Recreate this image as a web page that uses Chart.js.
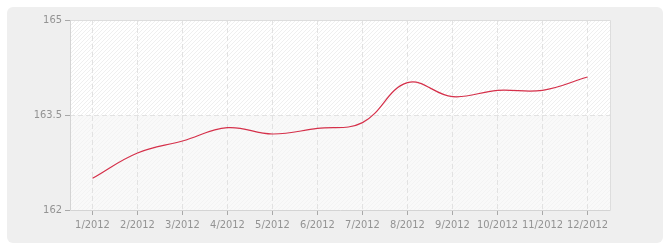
<!DOCTYPE html>
<html>
<head>
<meta charset="utf-8">
<script src="https://cdn.jsdelivr.net/npm/chart.js@4/dist/chart.umd.min.js"></script>
<style>
html,body{margin:0;padding:0;background:#fff;}
#wrap{width:670px;height:250px;position:relative;}
</style>
</head>
<body>
<div id="wrap"><canvas id="c" width="670" height="250"></canvas></div>
<script>
const categories = ['1/2012','2/2012','3/2012','4/2012','5/2012','6/2012','7/2012','8/2012','9/2012','10/2012','11/2012','12/2012'];
const values = [162.5, 162.9, 163.09, 163.3, 163.2, 163.29, 163.38, 164.01, 163.79, 163.89, 163.89, 164.1];
const yTicks = [162, 163.5, 165];

function makePattern(ctx, bg, fg) {
  const c = document.createElement('canvas');
  c.width = 4; c.height = 4;
  const g = c.getContext('2d');
  g.fillStyle = bg; g.fillRect(0,0,4,4);
  g.fillStyle = fg;
  for (let i = 0; i < 4; i++) g.fillRect(i, 3 - i, 1, 1);
  return ctx.createPattern(c, 'repeat');
}

const bgPlugin = {
  id: 'bg',
  beforeDraw(chart) {
    const ctx = chart.ctx;
    ctx.save();
    ctx.fillStyle = '#efefef';
    ctx.beginPath();
    ctx.roundRect(7, 7, 656, 236, 6);
    ctx.fill();
    const a = chart.chartArea;
    const y = chart.scales.y;
    const mid = y.getPixelForValue(163.5);
    ctx.fillStyle = makePattern(ctx, '#ffffff', '#efefef');
    ctx.fillRect(a.left, a.top, a.right - a.left, mid - a.top);
    ctx.fillStyle = makePattern(ctx, '#f9f9f9', '#f3f3f3');
    ctx.fillRect(a.left, mid, a.right - a.left, a.bottom - mid);
    ctx.restore();
  },
  beforeDatasetsDraw(chart) {
    const ctx = chart.ctx;
    const a = chart.chartArea;
    ctx.save();
    ctx.lineWidth = 1;
    ctx.strokeStyle = '#dddddd';
    ctx.beginPath();
    ctx.moveTo(a.left, a.top + 0.5);
    ctx.lineTo(a.right + 0.5, a.top + 0.5);
    ctx.lineTo(a.right + 0.5, a.bottom);
    ctx.stroke();
    ctx.strokeStyle = '#d4d4d4';
    ctx.beginPath();
    ctx.moveTo(a.left + 0.5, a.top);
    ctx.lineTo(a.left + 0.5, a.bottom + 0.5);
    ctx.lineTo(a.right + 0.5, a.bottom + 0.5);
    ctx.stroke();
    ctx.restore();
  }
};

const font = {family: '"DejaVu Sans Condensed", "DejaVu Sans", Verdana, sans-serif', size: 11};

new Chart(document.getElementById('c'), {
  type: 'line',
  data: {
    labels: categories,
    datasets: [{
      data: values,
      borderColor: '#d5304a',
      borderWidth: 1.2,
      pointRadius: 0,
      tension: 0.4,
      fill: false
    }]
  },
  options: {
    responsive: false,
    animation: false,
    devicePixelRatio: 1,
    layout: {padding: {left: 0, top: 20, right: 60, bottom: 0}},
    plugins: {legend: {display: false}, tooltip: {enabled: false}},
    scales: {
      x: {
        type: 'category',
        offset: true,
        afterFit(s) { s.height = 40; },
        border: {display: false, dash: [5,3]},
        grid: {
          offset: false,
          color: '#e2e2e2',
          lineWidth: 1,
          tickColor: '#a8a8a8',
          tickLength: 5,
          tickBorderDash: [],
          drawOnChartArea: true
        },
        ticks: {color: '#939393', font: font, padding: 4, maxRotation: 0, autoSkip: false}
      },
      y: {
        min: 162, max: 165,
        afterFit(s) { s.width = 70; },
        afterBuildTicks(s) { s.ticks = yTicks.map(v => ({value: v})); },
        border: {display: false, dash: [5,3]},
        grid: {
          color: (c) => (c.tick && (c.tick.value === 162 || c.tick.value === 165)) ? 'rgba(0,0,0,0)' : '#e2e2e2',
          tickColor: '#a8a8a8',
          tickLength: 5,
          tickBorderDash: []
        },
        ticks: {color: '#939393', font: font, padding: 3, callback: (v) => String(v)}
      }
    }
  },
  plugins: [bgPlugin]
});
</script>
</body>
</html>
